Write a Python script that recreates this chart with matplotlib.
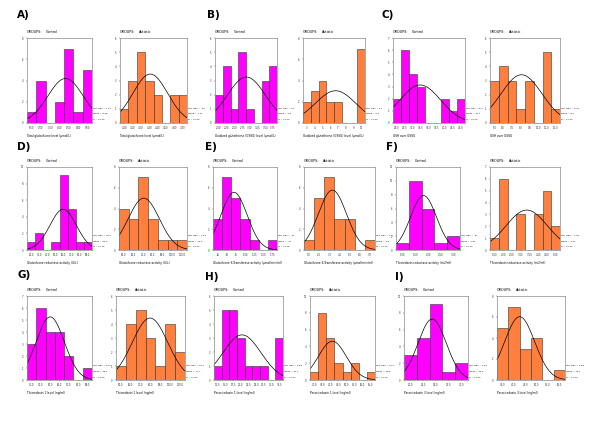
import matplotlib
matplotlib.use("Agg")
import matplotlib.pyplot as plt
import numpy as np

magenta = "#ff00ff"
orange = "#ff7f3f"

letters = ["A)", "B)", "C)", "D)", "E)", "F)", "G)", "H)", "I)"]
xlabels = ["Total glutathione level (\u03bcmol/L)",
           "Oxidized glutathione (GSSG) level (\u03bcmol/L)",
           "GSH over GSSG",
           "Glutathione reductase activity (U/L)",
           "Glutathione S-Transferase activity (\u03bcmol/min/ml)",
           "Thioredoxin reductase activity (mU/ml)",
           "Thioredoxin 1 level (ng/ml)",
           "Peroxiredoxin 1 level (ng/ml)",
           "Peroxiredoxin 3 level (ng/ml)"]

ctrl_counts = [[1, 4, 0, 2, 7, 1, 5],
               [2, 4, 1, 5, 1, 0, 3, 4],
               [2, 6, 4, 3, 0, 0, 2, 1, 2],
               [1, 2, 0, 1, 9, 5, 1, 1],
               [3, 7, 5, 3, 1, 0, 1],
               [1, 10, 6, 1, 2],
               [3, 6, 4, 4, 2, 0, 1],
               [1, 5, 5, 3, 1, 1, 1, 0, 3],
               [3, 5, 9, 1, 2]]
aut_counts = [[1, 3, 5, 3, 2, 0, 2, 2],
              [2, 3, 4, 2, 2, 0, 0, 7],
              [3, 4, 3, 1, 3, 0, 5, 1],
              [4, 3, 7, 3, 1, 1, 1],
              [1, 5, 7, 3, 3, 0, 1],
              [1, 6, 0, 3, 0, 3, 5, 2],
              [1, 4, 5, 3, 1, 4, 2],
              [1, 8, 5, 2, 1, 2, 0, 1],
              [5, 7, 3, 4, 0, 1]]

ctrl_ticks = [["6.50", "7.00", "7.50", "8.00", "8.50", "9.00", "9.50"],
              ["2.00", "2.25", "2.50", "2.75", "3.00", "3.25", "3.50", "3.75"],
              ["25.0", "27.5", "30.0", "32.5", "35.0", "37.5", "40.0", "42.5", "45.0"],
              ["20.0", "30.0", "40.0", "50.0", "60.0", "70.0", "80.0", "90.0"],
              [".25", ".50", ".75", "1.00", "1.25", "1.50", "1.75"],
              ["1.00", "1.50", "2.00", "2.50", "3.00"],
              ["30.0", "40.0", "50.0", "60.0", "70.0", "80.0", "90.0"],
              ["12.5", "15.0", "17.5", "20.0", "22.5", "25.0", "27.5", "30.0", "32.5"],
              ["20.0", "22.5", "25.0", "27.5", "30.0"]]
aut_ticks = [["4.00", "4.10", "4.20", "4.30", "4.40", "4.50", "4.60", "4.70"],
             ["3", "4", "5", "6", "7", "8", "9", "10"],
             ["5.0", "6.0", "7.0", "8.0", "9.0", "10.0", "11.0", "12.0"],
             ["50.0", "60.0", "70.0", "80.0", "90.0", "100.0", "110.0"],
             ["1.0", "2.0", "3.0", "4.0", "5.0", "6.0", "7.0"],
             ["1.50", "2.00", "2.50", "3.00", "3.50", "4.00", "4.50", "5.00"],
             ["50.0", "60.0", "70.0", "80.0", "90.0", "100.0", "110.0"],
             ["30.0", "35.0", "40.0", "45.0", "50.0", "55.0", "60.0", "65.0"],
             ["35.0", "40.0", "45.0", "50.0", "55.0", "60.0"]]

ctrl_ymax = [8, 6, 7, 10, 8, 12, 7, 6, 10]
aut_ymax = [6, 8, 6, 8, 8, 7, 6, 10, 8]

ctrl_stats = [("1.06", "8.29"), ("0.5", "2.9"), ("5.9", "31.1"), ("15.6", "63.2"), (".37", ".72"),
              (".57", "1.81"), ("13.0", "48.1"), ("5.88", "20.1"), ("2.95", "26.2")]
aut_stats = [(".24", "4.37"), ("2.1", "5.4"), ("2.48", "8.0"), ("14.8", "72.5"), ("1.2", "3.6"),
             ("1.23", "3.57"), ("15.4", "77.7"), ("10.3", "42.8"), ("6.83", "42.7")]

# axes boxes in pixels: (left, right) per panel, (top, bottom) per row
ctrl_x = [(27, 92), (215, 277), (393, 465), (27, 92), (213, 277), (396, 460),
          (27, 92), (214, 283), (404, 468)]
aut_x = [(120, 187), (303, 365), (490, 560), (119, 187), (304, 375), (490, 560),
         (116, 185), (310, 375), (497, 565)]
rows_y = [(38, 123), (167, 250), (296, 380)]
letter_pos = [(17, 15), (207, 15), (382, 15), (17, 147), (205, 147), (386, 147),
              (17, 275), (205, 277), (395, 277)]

W, H = 600, 424
fig = plt.figure(figsize=(6, 4.24), dpi=100)


def draw_hist(x0, x1, y0, y1, counts, ticks, ymax, color, group, stats, xlabel):
    ax = fig.add_axes([x0 / W, 1 - y1 / H, (x1 - x0) / W, (y1 - y0) / H])
    n = len(counts)
    pos = np.arange(1, n + 1)
    ax.bar(pos, counts, width=1.0, color=color, edgecolor="#333333", linewidth=0.4)
    counts = np.array(counts)
    m = (pos * counts).sum() / counts.sum()
    sd = np.sqrt(((pos - m) ** 2 * counts).sum() / counts.sum())
    xs = np.linspace(0.5, n + 0.5, 200)
    ys = counts.sum() * np.exp(-0.5 * ((xs - m) / sd) ** 2) / (sd * np.sqrt(2 * np.pi))
    ax.plot(xs, ys, color="black", linewidth=0.5)
    ax.set_xlim(0.5, n + 0.5)
    ax.set_ylim(0, ymax)
    step = 2 if ymax >= 8 else 1
    ax.set_yticks(np.arange(0, ymax + 0.1, step))
    ax.set_xticks(pos)
    ax.set_xticklabels(ticks)
    ax.tick_params(labelsize=1.8, length=1, width=0.3, pad=1.5, colors="#333333")
    for s in ax.spines.values():
        s.set_color("#888888")
        s.set_linewidth(0.5)
    fig.text(x0 / W, 1 - (y0 - 6) / H, "GROUPS:", fontsize=2.4, va="center")
    fig.text((x0 + 19) / W, 1 - (y0 - 6) / H, group, fontsize=2.4, va="center")
    fig.text(x0 / W, 1 - (y1 + 13) / H, xlabel, fontsize=2.1, va="center")
    lines = ["Std. Dev = " + stats[0], "Mean = " + stats[1], "N = 20.00"]
    for k, t in enumerate(lines):
        fig.text((x1 + 1) / W, 1 - (y1 - 15 + 6 * k) / H, t, fontsize=1.6, va="center")


for i in range(9):
    y0, y1 = rows_y[i // 3]
    draw_hist(ctrl_x[i][0], ctrl_x[i][1], y0, y1, ctrl_counts[i], ctrl_ticks[i],
              ctrl_ymax[i], magenta, "Control", ctrl_stats[i], xlabels[i])
    draw_hist(aut_x[i][0], aut_x[i][1], y0, y1, aut_counts[i], aut_ticks[i],
              aut_ymax[i], orange, "Autistic", aut_stats[i], xlabels[i])
    lx, ly = letter_pos[i]
    fig.text(lx / W, 1 - ly / H, letters[i], fontsize=7.5, fontweight="bold", va="center")

fig.savefig("out.png", dpi=100)
